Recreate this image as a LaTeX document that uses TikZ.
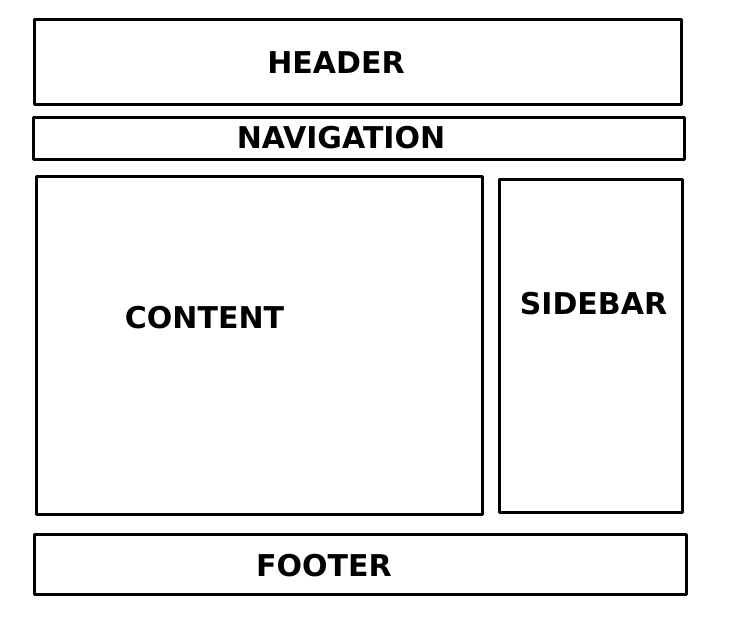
\documentclass[tikz,border=0pt]{standalone}
\usepackage{fontspec}
\setmainfont{DejaVu Sans}
\begin{document}
\begin{tikzpicture}[x=1pt,y=-1pt,
  region/.style={draw=black, line width=3pt, line join=round, rectangle, inner sep=0pt, outer sep=0pt},
  label/.style={inner sep=0pt, font=\fontsize{30}{36}\selectfont\bfseries}]
\useasboundingbox (0,0) rectangle (737,627);
\node[region, minimum width=647pt, minimum height=84.5pt] (header) at (358,61.75) {};
\node[region, minimum width=651pt, minimum height=42.5pt] (nav) at (358.5,138.25) {};
\node[region, minimum width=446pt, minimum height=337.5pt] (content) at (259,345.25) {};
\node[region, minimum width=183pt, minimum height=333.5pt] (sidebar) at (590.5,345.75) {};
\node[region, minimum width=651.5pt, minimum height=60pt] (footer) at (360.25,564) {};
\node[label] (headerlbl) at (336,62.5) {HEADER};
\node[label] (navlbl) at (341,138) {NAVIGATION};
\node[label] (contentlbl) at (204.5,317.5) {CONTENT};
\node[label] (sidebarlbl) at (593.5,304) {SIDEBAR};
\node[label] (footerlbl) at (324,565.5) {FOOTER};
\end{tikzpicture}
\end{document}
